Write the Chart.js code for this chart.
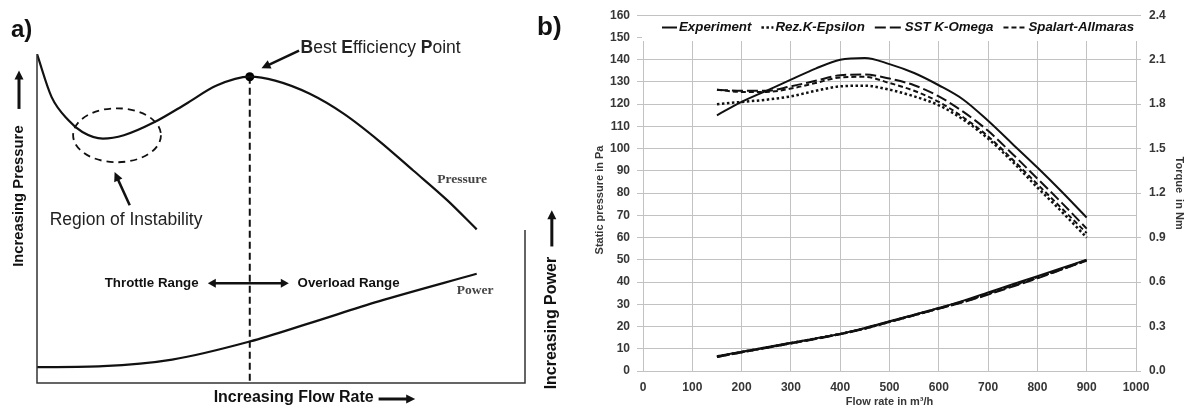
<!DOCTYPE html>
<html><head><meta charset="utf-8">
<script src="https://cdn.jsdelivr.net/npm/chart.js@4.4.1/dist/chart.umd.min.js"></script>
<style>
html,body{margin:0;padding:0;background:#fff;}
#wrap{position:relative;width:1189px;height:409px;overflow:hidden;background:#fff;}
canvas{position:absolute;top:0;}
#ca{left:0;}
#cb{left:530px;}
</style></head><body>
<div id="wrap"><canvas id="ca" width="590" height="409"></canvas><canvas id="cb" width="659" height="409"></canvas></div>
<script>
// ===== Panel a: schematic curves (relative units 0-100) =====
const aFlow      = [0, 3.0, 6.5, 9.3, 13.5, 17.8, 24.1, 30.5, 36.8, 43.6, 48.8, 55.9, 62.9, 70.0, 77.1, 84.1, 90.1];
const aPressure  = [100, 86.9, 79.8, 76.3, 74.3, 75.3, 79.3, 84.8, 90.4, 93.1, 91.9, 87.9, 81.8, 73.7, 64.6, 55.5, 46.7];
const aPowerFlow = [0, 13.5, 27.7, 43.6, 55.9, 70.0, 90.1];
const aPower     = [4.8, 5.1, 7.1, 12.6, 18.2, 24.8, 33.2];
const aBepFlow     = [43.6];
const aBepPressure = [93.1];

// ===== Panel b: measured / simulated curves =====
const flowRate = [150, 200, 250, 300, 350, 400, 450, 500, 550, 600, 650, 700, 750, 800, 850, 900];
const pExperiment      = [115, 121, 126, 131, 136, 140, 140.8, 138, 134, 128.5, 122, 112.5, 102, 91.5, 80.5, 69];
const pRezKEpsilon     = [120, 121, 122, 123.5, 126, 128, 128.3, 126.5, 123.5, 119.5, 113, 104.5, 94, 82.5, 71.5, 60];
const pSSTKOmega       = [126.5, 126, 126, 128, 130.5, 133, 133.3, 131.5, 128.5, 123.5, 116.5, 108, 97.5, 86.5, 75.5, 64];
const pSpalartAllmaras = [126.5, 125.5, 125.5, 127, 129.5, 132, 132.3, 129.5, 126, 121, 114, 105.5, 95, 84, 73, 62];
const tExperiment      = [0.100, 0.130, 0.160, 0.190, 0.220, 0.250, 0.290, 0.335, 0.380, 0.425, 0.475, 0.530, 0.585, 0.640, 0.695, 0.750];
const tRezKEpsilon     = [0.098, 0.128, 0.158, 0.188, 0.219, 0.250, 0.287, 0.332, 0.377, 0.422, 0.468, 0.520, 0.575, 0.630, 0.688, 0.747];
const tSSTKOmega       = [0.095, 0.125, 0.155, 0.185, 0.215, 0.248, 0.285, 0.330, 0.375, 0.420, 0.465, 0.515, 0.570, 0.625, 0.685, 0.745];
const tSpalartAllmaras = [0.095, 0.127, 0.157, 0.187, 0.218, 0.250, 0.288, 0.333, 0.378, 0.423, 0.470, 0.522, 0.577, 0.632, 0.690, 0.748];
const seriesNames = ['Experiment', 'Rez.K-Epsilon', 'SST K-Omega', 'Spalart-Allmaras'];
const flowAxis     = {min: 0, max: 1000, step: 100};
const pressureAxis = {min: 0, max: 160, step: 10};
const torqueAxis   = {min: 0, max: 2.4, step: 0.3};

// ===== styles =====
const SANS = "'Liberation Sans', Arial, sans-serif";
const SERIF = "'Liberation Serif', 'Times New Roman', serif";
const INK = '#111';
const seriesStyle = {
  'Experiment':       {dash: [], width: 2},
  'Rez.K-Epsilon':    {dash: [2.5, 2.5], width: 2.5},
  'SST K-Omega':      {dash: [11, 4], width: 2},
  'Spalart-Allmaras': {dash: [5, 3], width: 2}
};
const pts = (xs, ys) => xs.map((x, i) => ({x: x, y: ys[i]}));

function arrow(ctx, x1, y1, x2, y2, lw, hl, hw, both) {
  const a = Math.atan2(y2 - y1, x2 - x1);
  const head = (x, y, ang) => {
    ctx.beginPath();
    ctx.moveTo(x, y);
    ctx.lineTo(x - hl * Math.cos(ang) + hw / 2 * Math.sin(ang), y - hl * Math.sin(ang) - hw / 2 * Math.cos(ang));
    ctx.lineTo(x - hl * Math.cos(ang) - hw / 2 * Math.sin(ang), y - hl * Math.sin(ang) + hw / 2 * Math.cos(ang));
    ctx.closePath(); ctx.fill();
  };
  const sx = both ? x1 + (hl - 1) * Math.cos(a) : x1, sy = both ? y1 + (hl - 1) * Math.sin(a) : y1;
  const ex = x2 - (hl - 1) * Math.cos(a), ey = y2 - (hl - 1) * Math.sin(a);
  ctx.lineWidth = lw; ctx.setLineDash([]);
  ctx.beginPath(); ctx.moveTo(sx, sy); ctx.lineTo(ex, ey); ctx.stroke();
  head(x2, y2, a);
  if (both) head(x1, y1, a + Math.PI);
}

// ===== Panel a annotation plugin =====
const schematicPlugin = {
  id: 'schematic',
  beforeDatasetsDraw(chart) {
    const {ctx, chartArea: ca, scales: {x, y}} = chart;
    ctx.save();
    ctx.strokeStyle = INK; ctx.lineWidth = 2; ctx.setLineDash([7, 4]);
    ctx.beginPath(); ctx.moveTo(x.getPixelForValue(aBepFlow[0]), y.getPixelForValue(aBepPressure[0])); ctx.lineTo(x.getPixelForValue(aBepFlow[0]), ca.bottom + 1); ctx.stroke();
    ctx.lineWidth = 1.8; ctx.setLineDash([7, 5]);
    ctx.beginPath();
    ctx.ellipse(x.getPixelForValue(16.4), y.getPixelForValue(75.3), 9.0 * (x.getPixelForValue(1) - x.getPixelForValue(0)), 8.2 * (y.getPixelForValue(0) - y.getPixelForValue(1)), 0, 0, Math.PI * 2);
    ctx.stroke();
    ctx.restore();
  },
  afterDraw(chart) {
    const {ctx, chartArea: ca, scales: {x, y}} = chart;
    const X = v => x.getPixelForValue(v), Y = v => y.getPixelForValue(v);
    ctx.save();
    ctx.strokeStyle = '#333'; ctx.lineWidth = 1.5; ctx.setLineDash([]);
    ctx.beginPath();
    ctx.moveTo(ca.left, ca.top); ctx.lineTo(ca.left, ca.bottom); ctx.lineTo(ca.right, ca.bottom); ctx.lineTo(ca.right, Y(46.5));
    ctx.stroke();
    ctx.fillStyle = INK; ctx.strokeStyle = INK;
    arrow(ctx, X(53.7), Y(101.0), X(46.0), Y(95.7), 2.5, 9, 9, false);
    arrow(ctx, X(19.0), Y(54.0), X(15.9), Y(64.1), 2.5, 9, 9, false);
    arrow(ctx, X(35.0), Y(30.3), X(51.6), Y(30.3), 2.5, 8, 9, true);
    arrow(ctx, X(70.0), ca.bottom + 16, X(77.5), ca.bottom + 16, 3, 9, 9, false);
    arrow(ctx, ca.left - 18, Y(83.3), ca.left - 18, Y(95.0), 3, 9, 9, false);
    arrow(ctx, X(105.5), Y(41.5), X(105.5), Y(52.5), 3, 9, 9, false);
    ctx.textBaseline = 'middle'; ctx.textAlign = 'left';
    ctx.fillStyle = '#222';
    ctx.font = '17.5px ' + SANS;
    ctx.fillText('Region of Instability', X(2.6), Y(49.5));
    let bx = X(54.0); const by = Y(101.8);
    [['B', 1], ['est ', 0], ['E', 1], ['fficiency ', 0], ['P', 1], ['oint', 0]].forEach(([s, b]) => {
      ctx.font = (b ? 'bold ' : '') + '17.5px ' + SANS;
      ctx.fillText(s, bx, by); bx += ctx.measureText(s).width;
    });
    ctx.fillStyle = INK;
    ctx.font = 'bold 13.3px ' + SANS;
    ctx.textAlign = 'right'; ctx.fillText('Throttle Range', X(33.1), Y(30.3));
    ctx.textAlign = 'left'; ctx.fillText('Overload Range', X(53.4), Y(30.3));
    ctx.font = 'bold 16px ' + SANS;
    ctx.fillText('Increasing Flow Rate', X(36.2), ca.bottom + 15);
    ctx.fillStyle = '#444';
    ctx.font = 'bold 13.5px ' + SERIF;
    ctx.fillText('Pressure', X(82.0), Y(61.7));
    ctx.fillText('Power', X(86.0), Y(28.0));
    ctx.fillStyle = INK;
    ctx.font = 'bold 24px ' + SANS;
    ctx.fillText('a)', 11, 30);
    ctx.font = 'bold 14.8px ' + SANS; ctx.textAlign = 'center';
    ctx.save(); ctx.translate(ca.left - 18, Y(56.8)); ctx.rotate(-Math.PI / 2); ctx.fillText('Increasing Pressure', 0, 0); ctx.restore();
    ctx.font = 'bold 16px ' + SANS;
    ctx.save(); ctx.translate(X(105.5), Y(18.2)); ctx.rotate(-Math.PI / 2); ctx.fillText('Increasing Power', 0, 0); ctx.restore();
    ctx.restore();
  }
};

new Chart(document.getElementById('ca'), {
  type: 'scatter',
  data: {datasets: [
    {data: pts(aFlow, aPressure), showLine: true, borderColor: INK, borderWidth: 2.2, pointRadius: 0, cubicInterpolationMode: 'monotone', fill: false},
    {data: pts(aPowerFlow, aPower), showLine: true, borderColor: INK, borderWidth: 2.2, pointRadius: 0, cubicInterpolationMode: 'monotone', fill: false},
    {data: pts(aBepFlow, aBepPressure), showLine: false, pointRadius: 4.5, backgroundColor: '#000', borderColor: '#000', borderWidth: 0}
  ]},
  options: {
    responsive: false, animation: false, devicePixelRatio: 1,
    layout: {padding: {left: 37, right: 65, top: 54, bottom: 26}},
    scales: {
      x: {type: 'linear', min: 0, max: 100, display: false},
      y: {type: 'linear', min: 0, max: 100, display: false}
    },
    plugins: {legend: {display: false}, tooltip: {enabled: false}}
  },
  plugins: [schematicPlugin]
});

// ===== Panel b =====
const GRID = '#c2c2c2';
const TICKC = '#363636';
const mkSet = (name, ys, axis) => ({
  label: name, data: pts(flowRate, ys), yAxisID: axis, showLine: true, fill: false,
  borderColor: INK, borderWidth: seriesStyle[name].width, borderDash: seriesStyle[name].dash,
  pointRadius: 0, cubicInterpolationMode: 'monotone'
});
const tickFont = {family: SANS, size: 12, weight: 'bold'};
const titleFont = {family: SANS, size: 11, weight: 'bold'};
const legendPlugin = {
  id: 'legendB',
  beforeDatasetsDraw(chart) {
    const {ctx, chartArea: ca} = chart;
    ctx.save(); ctx.fillStyle = '#fff';
    ctx.fillRect(ca.left - 1, 16, ca.right - ca.left + 2, 25);
    ctx.restore();
  },
  afterDraw(chart) {
    const {ctx, chartArea: ca} = chart;
    ctx.save();
    const lineLen = {'Experiment': 15, 'Rez.K-Epsilon': 12, 'SST K-Omega': 28, 'Spalart-Allmaras': 23};
    let lx = ca.left + 19; const ly = 27.5;
    ctx.font = 'italic bold 13.3px ' + SANS; ctx.textBaseline = 'middle'; ctx.fillStyle = INK; ctx.strokeStyle = INK;
    seriesNames.forEach(n => {
      const st = seriesStyle[n];
      ctx.lineWidth = st.width; ctx.setLineDash(st.dash);
      ctx.beginPath(); ctx.moveTo(lx, ly); ctx.lineTo(lx + lineLen[n], ly); ctx.stroke();
      lx += lineLen[n] + 2;
      ctx.fillText(n, lx, ly);
      lx += ctx.measureText(n).width + 10;
    });
    ctx.setLineDash([]);
    // left axis title (drawn here to match the reference's vertical placement)
    ctx.font = 'bold 11px ' + SANS; ctx.fillStyle = TICKC; ctx.textAlign = 'center';
    ctx.save(); ctx.translate(70, 200); ctx.rotate(-Math.PI / 2); ctx.fillText('Static pressure in Pa', 0, 0); ctx.restore();
    ctx.fillStyle = INK;
    ctx.font = 'bold 26px ' + SANS; ctx.textAlign = 'left';
    ctx.fillText('b)', 7, 28);
    ctx.restore();
  }
};
new Chart(document.getElementById('cb'), {
  type: 'scatter',
  data: {datasets: [
    mkSet('Rez.K-Epsilon', pRezKEpsilon, 'y'),
    mkSet('Spalart-Allmaras', pSpalartAllmaras, 'y'),
    mkSet('SST K-Omega', pSSTKOmega, 'y'),
    mkSet('Experiment', pExperiment, 'y'),
    mkSet('Rez.K-Epsilon', tRezKEpsilon, 'y2'),
    mkSet('Spalart-Allmaras', tSpalartAllmaras, 'y2'),
    mkSet('SST K-Omega', tSSTKOmega, 'y2'),
    mkSet('Experiment', tExperiment, 'y2')
  ]},
  options: {
    responsive: false, animation: false, devicePixelRatio: 1,
    layout: {padding: {left: 60, right: 0, top: 13, bottom: 0}},
    scales: {
      x: {type: 'linear', min: flowAxis.min, max: flowAxis.max,
          ticks: {stepSize: flowAxis.step, font: tickFont, color: TICKC, padding: 9, maxRotation: 0, autoSkip: false, callback: v => String(v)},
          grid: {color: GRID, drawTicks: false}, border: {color: GRID},
          title: {display: true, text: 'Flow rate in m³/h', font: titleFont, color: TICKC, padding: {top: 0, bottom: 0}},
          afterFit(s) { s.height = 38; }},
      y: {type: 'linear', position: 'left', min: pressureAxis.min, max: pressureAxis.max,
          ticks: {stepSize: pressureAxis.step, font: tickFont, color: TICKC, padding: 7, autoSkip: false},
          grid: {color: GRID, tickLength: 6}, border: {color: GRID},
          title: {display: false},
          afterFit(s) { s.width = 53; }},
      y2: {type: 'linear', position: 'right', min: torqueAxis.min, max: torqueAxis.max,
          ticks: {stepSize: torqueAxis.step, font: tickFont, color: TICKC, padding: 8, autoSkip: false, callback: v => v.toFixed(1)},
          grid: {color: GRID, tickLength: 5, drawOnChartArea: false}, border: {color: GRID},
          title: {display: true, text: 'Torque  in Nm', font: titleFont, color: TICKC, padding: {top: 3, bottom: 0}},
          afterFit(s) { s.width = 53; }}
    },
    plugins: {legend: {display: false}, tooltip: {enabled: false}}
  },
  plugins: [legendPlugin]
});
</script>
</body></html>
